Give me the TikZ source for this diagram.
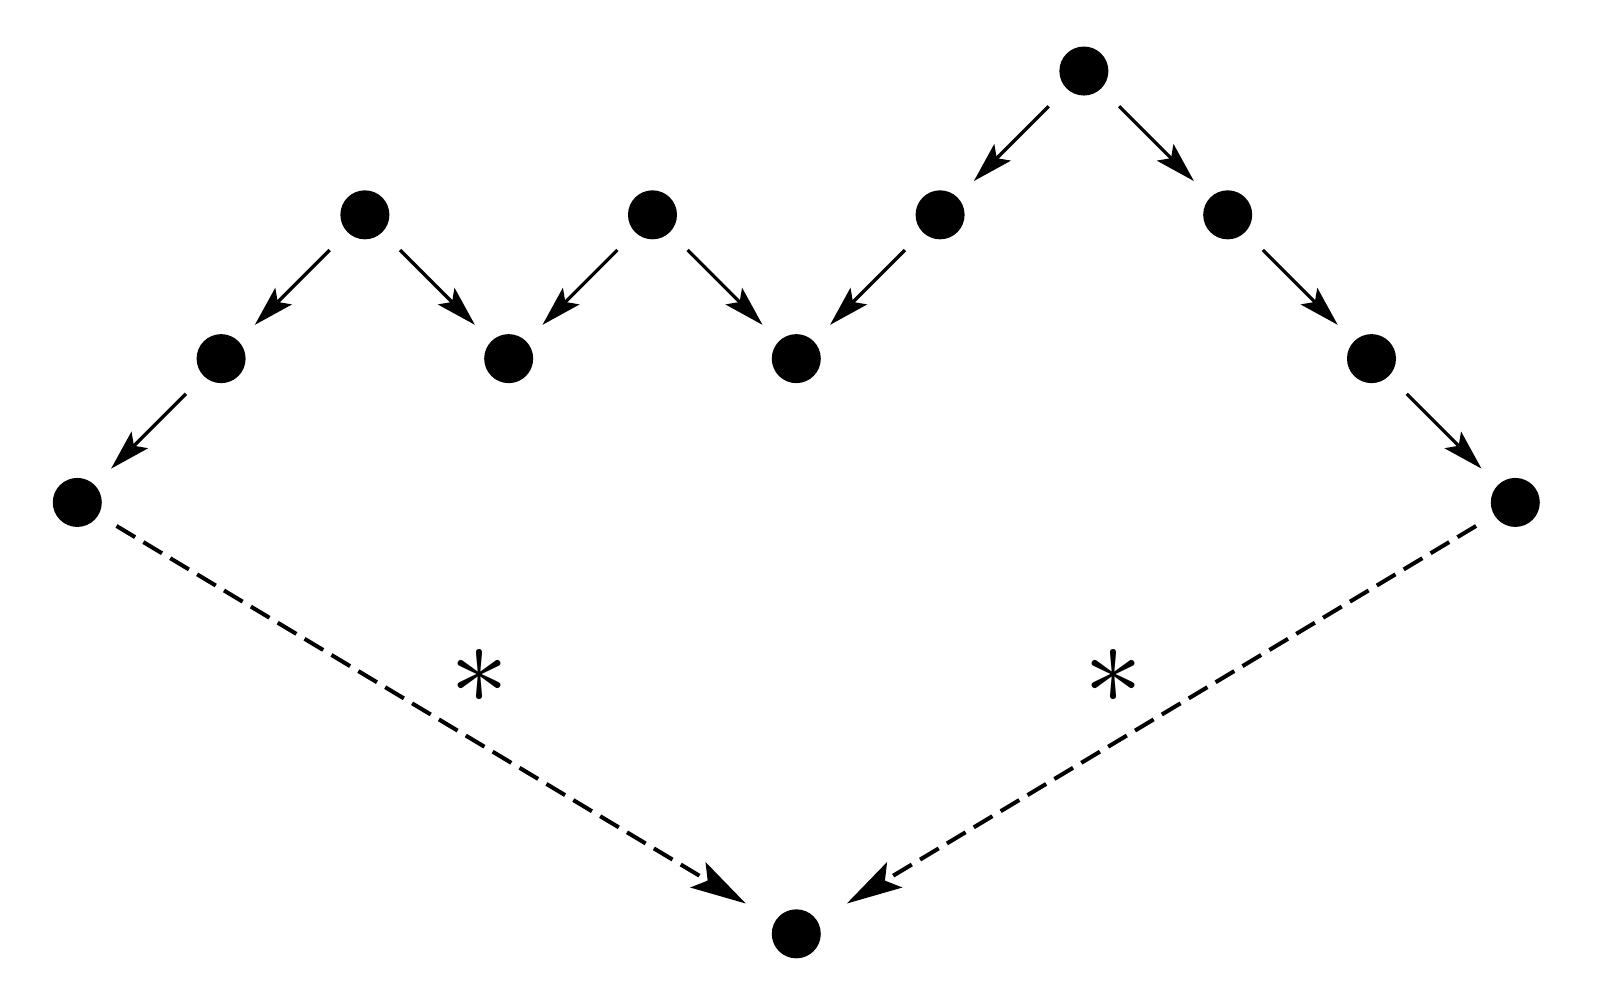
\documentclass[tikz,border=0pt]{standalone}
\usepackage{amsmath}
\usepackage{amssymb}
\usetikzlibrary{arrows.meta}

\begin{document}
\begin{tikzpicture}[dot/.style={circle,fill,inner sep=0pt,minimum size=9.7pt},
		vect/.style={->,>={Stealth[length=8pt,width=4.6pt,inset=1.6pt]},line width=0.65pt,shorten <=4.8pt,shorten >=4.4pt},
		dvect/.style={->,>={Stealth[length=11pt,width=5.8pt,inset=2.2pt]},line width=0.8pt,dash pattern=on 4.3pt off 1.9pt,shorten <=4pt,shorten >=6.6pt},
		star/.style={scale=2.3}]
		\useasboundingbox (-0.5375,-3.46) rectangle (10.589,3.494);% margins of the picture
		\node[dot] (t) at (7,3) {};
		\node[dot] (b2) at (2,2) {};
		\node[dot] (b4) at (4,2) {};
		\node[dot] (b6) at (6,2) {};
		\node[dot] (b8) at (8,2) {};
		\node[dot] (c1) at (1,1) {};
		\node[dot] (c3) at (3,1) {};
		\node[dot] (c5) at (5,1) {};
		\node[dot] (c9) at (9,1) {};
		\node[dot] (d0) at (0,0) {};
		\node[dot] (d10) at (10,0) {};
		\node[dot] (e) at (5,-3) {};
		\foreach \a/\b in {t/b6,t/b8,b2/c1,b2/c3,b4/c3,b4/c5,b6/c5,b8/c9,c1/d0,c9/d10}
			\draw[vect] (\a) -- (\b);
		\draw[dvect] (d0) -- (e);
		\draw[dvect] (d10) -- (e);
		\node[star] (sl) at (2.797,-1.21) {$\ast$};
		\node[star] (sr) at (7.206,-1.213) {$\ast$};
	\end{tikzpicture}
\end{document}
